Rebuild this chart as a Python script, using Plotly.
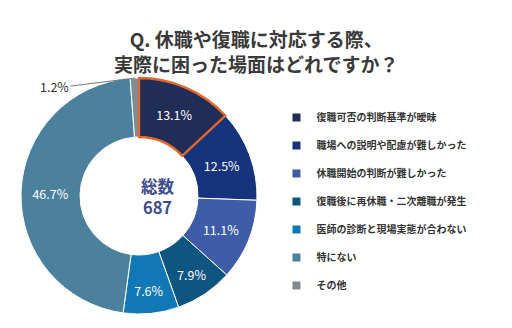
import math
import plotly.graph_objects as go

labels = ["復職可否の判断基準が曖昧", "職場への説明や配慮が難しかった", "休職開始の判断が難しかった",
          "復職後に再休職・二次離職が発生", "医師の診断と現場実態が合わない", "特にない", "その他"]
values = [13.1, 12.5, 11.1, 7.9, 7.6, 46.7, 1.2]
colors = ["#1f2d57", "#15347c", "#3e5ca8", "#0f5582", "#1078b5", "#4b819d", "#7f8c96"]
total_label = "総数"
total_n = 687
title_lines = ["Q. 休職や復職に対応する際、", "実際に困った場面はどれですか？"]
highlight = 0

FONT = "Noto Sans CJK JP"
W, H = 512, 328
cx, cy, R = 139, 196, 118  # pie center/radius in px
domain = dict(x=[(cx - R) / W, (cx + R) / W], y=[(H - cy - R) / H, (H - cy + R) / H])

texts = [f"{v}%" for v in values]
positions = ["inside" if v >= 5 else "none" for v in values]

fig = go.Figure()
fig.add_trace(go.Pie(
    labels=labels, values=values, sort=False, direction="clockwise", rotation=0,
    hole=0.5, text=texts, textinfo="text", textposition=positions,
    insidetextorientation="horizontal",
    textfont=dict(family=FONT, size=12.5, color="white"),
    marker=dict(colors=colors, line=dict(color="#ffffff", width=1)),
    domain=domain, showlegend=False, hoverinfo="label+percent",
))
# highlight outline overlay
fig.add_trace(go.Pie(
    labels=[f"{l} " for l in labels], values=values, sort=False, direction="clockwise", rotation=0,
    hole=0.5, textinfo="none",
    marker=dict(colors=["rgba(255,255,255,0)"] * len(values),
                line=dict(color=["#e2672c" if i == highlight else "rgba(255,255,255,0)" for i in range(len(values))],
                          width=[2.4 if i == highlight else 0 for i in range(len(values))])),
    domain=domain, showlegend=False, hoverinfo="skip",
))

for i, (lab, col) in enumerate(zip(labels, colors)):
    fig.add_trace(go.Scatter(
        x=[None], y=[None], mode="markers", name=f"<b>{lab}</b>", legendgroup=f"g{i}",
        marker=dict(symbol="square", size=8, color=col), showlegend=True,
    ))

# small-slice outside label
small_idx = len(values) - 1
cum = sum(values[:small_idx]) + values[small_idx] / 2
ang = 2 * math.pi * cum / sum(values)
px = cx + R * math.sin(ang)
py = cy - R * math.cos(ang)
fig.add_annotation(
    x=px / W, y=(H - py) / H, xref="paper", yref="paper",
    text=f"{values[small_idx]}%", showarrow=True, arrowhead=0, arrowwidth=0.8,
    arrowcolor="#555555", ax=-64, ay=8, xanchor="right",
    font=dict(family=FONT, size=12.5, color="#333333"),
)

fig.add_annotation(
    x=cx / W, y=(H - cy) / H, xref="paper", yref="paper",
    text=f"<b>{total_label}</b><br><b>{total_n}</b>", showarrow=False,
    font=dict(family=FONT, size=16.5, color="#404a8e"),
)

fig.add_annotation(
    x=0.5, y=1 - 51 / H, xref="paper", yref="paper", xanchor="center", yanchor="middle",
    text="<b>" + "<br>".join(title_lines) + "</b>", showarrow=False,
    font=dict(family=FONT, size=19, color="#3a3a3a"),
)

fig.update_layout(
    width=W, height=H, margin=dict(l=0, r=0, t=0, b=0),
    paper_bgcolor="white", plot_bgcolor="white",
    xaxis=dict(visible=False), yaxis=dict(visible=False),
    legend=dict(x=0.54, y=1 - 103 / H, xanchor="left", yanchor="top",
                traceorder="grouped", tracegroupgap=9, itemsizing="trace",
                font=dict(family=FONT, size=10, color="#333333"),
                bgcolor="rgba(0,0,0,0)"),
)
fig.write_html("out.html")
